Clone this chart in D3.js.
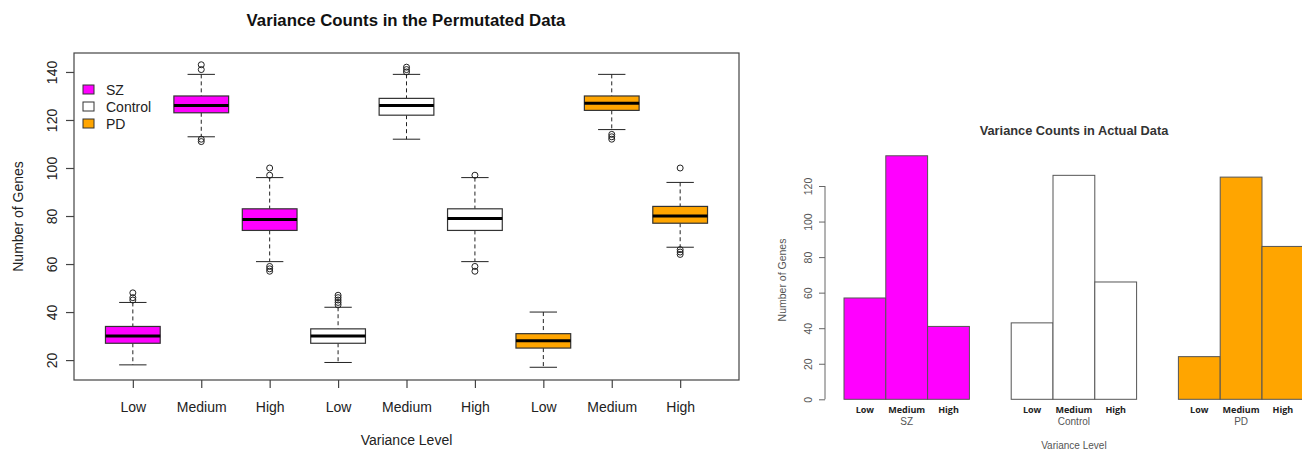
<!DOCTYPE html>
<html>
<head>
<meta charset="utf-8">
<script src="https://cdn.jsdelivr.net/npm/d3@7"></script>
<style>
  html, body { margin: 0; padding: 0; background: #fff; }
  svg { display: block; }
</style>
</head>
<body>
<div id="chart"></div>
<script>
// groups and variance levels
const groups = ["SZ", "Control", "PD"];
const levels = ["Low", "Medium", "High"];

// permutated data: [lower whisker, Q1, median, Q3, upper whisker] for Low / Medium / High
const szStats = [[18, 27, 30, 34, 44], [113, 123, 126, 130, 139], [61, 74, 78.5, 83, 96]];
const controlStats = [[19, 27, 30, 33, 42], [112, 122, 126, 129, 139], [61, 74, 79, 83, 96]];
const pdStats = [[17, 25, 28, 31, 40], [116, 124, 127, 130, 139], [67, 77, 80, 84, 94]];

const szOutliers = [[45, 46, 48], [111, 112, 141, 143], [57, 58, 59, 97, 100]];
const controlOutliers = [[43, 44, 45, 46, 47], [140, 141, 142], [57, 59, 97]];
const pdOutliers = [[], [112, 113, 114], [64, 65, 66, 100]];

// actual data counts for Low / Medium / High
const szActual = [57, 137, 41];
const controlActual = [43, 126, 66];
const pdActual = [24, 125, 86];

const yTicksLeft = [20, 40, 60, 80, 100, 120, 140];
const yTicksRight = [0, 20, 40, 60, 80, 100, 120];

const fills = ["#ff00ff", "#ffffff", "#ffa500"];

const W = 1302, H = 450;
const svg = d3.create("svg")
    .attr("width", W)
    .attr("height", H)
    .attr("viewBox", [0, 0, W, H])
    .style("font-family", "'Liberation Sans', Arial, sans-serif");

svg.append("rect").attr("width", W).attr("height", H).attr("fill", "#fff");

// ---------- left: boxplots ----------
function drawBoxplots() {
    const plot = { left: 74, right: 739, top: 53, bottom: 380 };
    const x = d3.scaleLinear().domain([0.14, 9.86]).range([plot.left, plot.right]);
    const y = d3.scaleLinear().domain([11.7, 147.9]).range([plot.bottom, plot.top]);

    const stats = [szStats, controlStats, pdStats];
    const outliers = [szOutliers, controlOutliers, pdOutliers];
    const boxes = [];
    groups.forEach((g, gi) => {
        levels.forEach((l, li) => {
            const s = stats[gi][li];
            boxes.push({ pos: gi * 3 + li + 1, group: g, level: l, fill: fills[gi],
                lo: s[0], q1: s[1], med: s[2], q3: s[3], hi: s[4], out: outliers[gi][li] });
        });
    });

    const halfBox = x(1.4) - x(1);
    const halfCap = halfBox / 2;
    const g = svg.append("g");

    const b = g.selectAll("g.box").data(boxes).join("g").attr("class", "box");

    // whiskers
    b.append("line")
        .attr("x1", d => x(d.pos)).attr("x2", d => x(d.pos))
        .attr("y1", d => y(d.hi)).attr("y2", d => y(d.q3))
        .attr("stroke", "#222").attr("stroke-dasharray", "4,3");
    b.append("line")
        .attr("x1", d => x(d.pos)).attr("x2", d => x(d.pos))
        .attr("y1", d => y(d.q1)).attr("y2", d => y(d.lo))
        .attr("stroke", "#222").attr("stroke-dasharray", "4,3");
    // caps
    b.append("line")
        .attr("x1", d => x(d.pos) - halfCap).attr("x2", d => x(d.pos) + halfCap)
        .attr("y1", d => y(d.hi)).attr("y2", d => y(d.hi))
        .attr("stroke", "#222");
    b.append("line")
        .attr("x1", d => x(d.pos) - halfCap).attr("x2", d => x(d.pos) + halfCap)
        .attr("y1", d => y(d.lo)).attr("y2", d => y(d.lo))
        .attr("stroke", "#222");
    // box
    b.append("rect")
        .attr("x", d => x(d.pos) - halfBox)
        .attr("width", halfBox * 2)
        .attr("y", d => y(d.q3))
        .attr("height", d => y(d.q1) - y(d.q3))
        .attr("fill", d => d.fill)
        .attr("stroke", "#333").attr("stroke-width", 1.2);
    // median
    b.append("line")
        .attr("x1", d => x(d.pos) - halfBox).attr("x2", d => x(d.pos) + halfBox)
        .attr("y1", d => y(d.med)).attr("y2", d => y(d.med))
        .attr("stroke", "#000").attr("stroke-width", 3);
    // outliers
    b.selectAll("circle")
        .data(d => d.out.map(v => ({ pos: d.pos, v })))
        .join("circle")
        .attr("cx", d => x(d.pos)).attr("cy", d => y(d.v))
        .attr("r", 3)
        .attr("fill", "none").attr("stroke", "#222").attr("stroke-width", 1);

    // frame
    svg.append("rect")
        .attr("x", plot.left).attr("y", plot.top)
        .attr("width", plot.right - plot.left).attr("height", plot.bottom - plot.top)
        .attr("fill", "none").attr("stroke", "#444").attr("stroke-width", 1.2);

    // axes
    const xAxis = svg.append("g")
        .attr("transform", `translate(0,${plot.bottom})`)
        .call(d3.axisBottom(x)
            .tickValues(boxes.map(d => d.pos))
            .tickFormat((d, i) => boxes[i].level)
            .tickSize(8).tickPadding(14));
    xAxis.select(".domain").remove();
    xAxis.selectAll(".tick line").attr("stroke", "#444").attr("stroke-width", 1.2);
    xAxis.selectAll(".tick text").attr("fill", "#222").style("font-size", "14px")
        .style("font-family", "'Liberation Sans', Arial, sans-serif");

    const yAxis = svg.append("g")
        .attr("transform", `translate(${plot.left},0)`)
        .call(d3.axisLeft(y).tickValues(yTicksLeft).tickSize(8));
    yAxis.select(".domain").remove();
    yAxis.selectAll(".tick line").attr("stroke", "#444").attr("stroke-width", 1.2);
    yAxis.selectAll(".tick text")
        .attr("x", 0).attr("y", -17).attr("dy", 0)
        .attr("transform", "rotate(-90)")
        .attr("text-anchor", "middle")
        .attr("fill", "#222").style("font-size", "14px")
        .style("font-family", "'Liberation Sans', Arial, sans-serif");

    // titles
    svg.append("text")
        .attr("x", 406).attr("y", 26)
        .attr("text-anchor", "middle")
        .style("font-size", "16.8px").style("font-weight", "bold").attr("fill", "#111")
        .text("Variance Counts in the Permutated Data");
    svg.append("text")
        .attr("x", (plot.left + plot.right) / 2).attr("y", 445)
        .attr("text-anchor", "middle")
        .style("font-size", "14px").attr("fill", "#222")
        .text("Variance Level");
    svg.append("text")
        .attr("transform", `translate(23,${(plot.top + plot.bottom) / 2}) rotate(-90)`)
        .attr("text-anchor", "middle")
        .style("font-size", "14px").attr("fill", "#222")
        .text("Number of Genes");

    // legend
    const legend = svg.append("g").attr("transform", "translate(83,85)");
    const items = legend.selectAll("g").data(groups).join("g")
        .attr("transform", (d, i) => `translate(0,${i * 17})`);
    items.append("rect")
        .attr("width", 11).attr("height", 9)
        .attr("fill", (d, i) => fills[i])
        .attr("stroke", "#333").attr("stroke-width", 1);
    items.append("text")
        .attr("x", 23).attr("y", 10)
        .style("font-size", "14px").attr("fill", "#222")
        .text(d => d);
}

// ---------- right: bar chart of actual counts ----------
function drawBars() {
    const x = d3.scaleLinear().domain([0, 1]).range([802.2, 844]);
    const y = d3.scaleLinear().domain([0, 120]).range([399.3, 186]);
    const actual = [szActual, controlActual, pdActual];

    const bars = [];
    groups.forEach((g, gi) => {
        levels.forEach((l, li) => {
            bars.push({ start: 1 + gi * 4 + li, group: g, gi, level: l, value: actual[gi][li] });
        });
    });

    svg.append("g").selectAll("rect").data(bars).join("rect")
        .attr("x", d => x(d.start))
        .attr("width", d => x(d.start + 1) - x(d.start))
        .attr("y", d => y(d.value))
        .attr("height", d => y(0) - y(d.value))
        .attr("fill", d => fills[d.gi])
        .attr("stroke", "#555").attr("stroke-width", 1);

    // y axis
    const yAxis = svg.append("g")
        .attr("transform", "translate(825,0)")
        .call(d3.axisLeft(y).tickValues(yTicksRight).tickSize(6));
    yAxis.select(".domain").remove();
    yAxis.append("line")
        .attr("y1", y(0)).attr("y2", y(120))
        .attr("stroke", "#666");
    yAxis.selectAll(".tick line").attr("stroke", "#666");
    yAxis.selectAll(".tick text")
        .attr("x", 0).attr("y", -13).attr("dy", 0)
        .attr("transform", "rotate(-90)")
        .attr("text-anchor", "middle")
        .attr("fill", "#555").style("font-size", "10.5px")
        .style("font-family", "'Liberation Sans', Arial, sans-serif");

    // bar labels
    svg.append("g").selectAll("text").data(bars).join("text")
        .attr("x", d => x(d.start + 0.5)).attr("y", 413)
        .attr("text-anchor", "middle")
        .style("font-family", "'Open Sans', sans-serif")
        .style("font-size", "9px").style("font-weight", "bold").attr("fill", "#222")
        .text(d => d.level);

    // group labels
    svg.append("g").selectAll("text").data(groups).join("text")
        .attr("x", (d, i) => x(1 + i * 4 + 1.5)).attr("y", 425)
        .attr("text-anchor", "middle")
        .style("font-size", "10px").attr("fill", "#555")
        .text(d => d);

    svg.append("text")
        .attr("x", 1074).attr("y", 134.5)
        .attr("text-anchor", "middle")
        .style("font-size", "12.8px").style("font-weight", "bold").attr("fill", "#333")
        .text("Variance Counts in Actual Data");
    svg.append("text")
        .attr("x", x(6.5)).attr("y", 449)
        .attr("text-anchor", "middle")
        .style("font-size", "10px").attr("fill", "#555")
        .text("Variance Level");
    svg.append("text")
        .attr("transform", `translate(786,280) rotate(-90)`)
        .attr("text-anchor", "middle")
        .style("font-size", "10.5px").attr("fill", "#555")
        .text("Number of Genes");
}

drawBoxplots();
drawBars();

document.getElementById("chart").appendChild(svg.node());
</script>
</body>
</html>
